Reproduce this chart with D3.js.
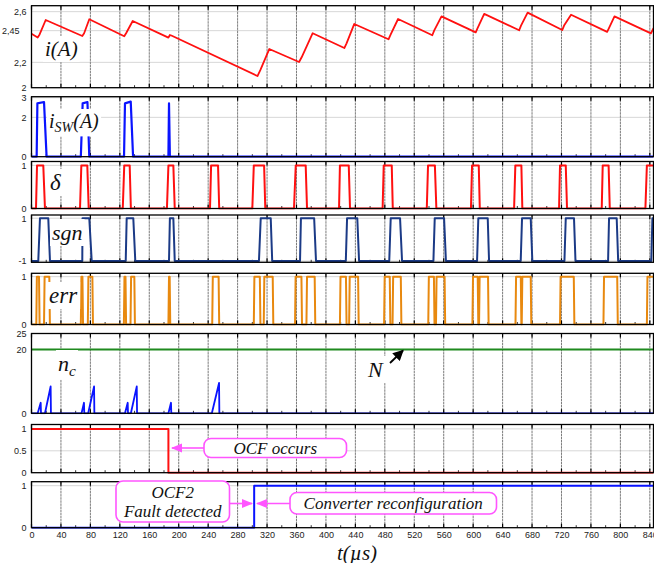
<!DOCTYPE html>
<html><head><meta charset="utf-8">
<script src="https://cdn.jsdelivr.net/npm/d3@7"></script>
<style>
body{margin:0;background:#fff}
.tick text{font-family:"Liberation Sans",Arial,sans-serif;font-size:9px;fill:#222}
.lbl{font-family:"Liberation Serif","Times New Roman",serif;font-style:italic;fill:#111}
</style>
</head><body><svg id="c" width="654" height="563"></svg>
<script>
// ---------------- data ----------------
const xTicks = d3.range(0, 841, 40);
// i(A): current waveform (t in µs, value in A)
const currentT = [0,8.4,11,19.3,69,71.5,78.5,126,128.5,137.5,186,188,190,307,311,323,363.5,367,382,425,428,438.5,485,488,498,544.5,547,557,603.5,606,615,662.5,665,674,721,723.5,733,782,784.5,792,841.5,845];
const currentV = [2.426,2.396,2.42,2.534,2.408,2.43,2.54,2.406,2.43,2.526,2.395,2.416,2.412,2.092,2.14,2.305,2.203,2.24,2.43,2.313,2.35,2.503,2.382,2.42,2.542,2.414,2.45,2.563,2.437,2.47,2.582,2.453,2.49,2.592,2.455,2.49,2.576,2.44,2.47,2.563,2.429,2.47];
const currentTicks = [2, 2.2, 2.45, 2.6];
const currentTickLabels = ["2", "2,2", "2,45", "2,6"];
// i_SW(A)
const iswT = [0,7,8,17,20.5,67,69.5,76,78.5,125.7,127,134.8,138,186,186.8,188,845];
const iswV = [0,0,2.71,2.78,0,0,2.71,2.78,0,0,2.71,2.8,0,0,2.71,0,0];
const iswTicks = [0, 2, 3];
// delta pulses: [rise start, top start, top end, fall end]
const deltaPulses = [[6.1,7.5,16,18.3],[65.9,67.7,75.8,77.7],[124,126,133.4,135],[184,186,192.7,194.6],[242.5,244,253.4,255],[300,302,316,317.6],[356.6,359,372.5,374.3],[417.8,419,431,432.7],[477,478.5,489.4,490.8],[537,538.7,548,550],[597,598.5,607.6,609],[655.6,657.3,665.5,666.8],[716.7,718,725.8,727.5],[774.7,776,784,785.6],[834,836,860,860]];
const deltaTicks = [0, 1];
// sgn pulses (-1 / 1)
const sgnPulses = [[9.2,11.5,22.8,25.1],[69,69.3,78.5,81.8],[128,129.3,138.3,141],[186.8,188,192.7,194.6],[309,311.4,325,327],[364.8,366,384,386.5],[427,428.7,442.6,445],[486,488,500.7,503.4],[546,547.8,560.5,563],[605.3,607,619.8,621.6],[664.6,666.4,678.2,680.4],[724,725.8,737,739],[783.3,784.6,795,797],[842,843.5,860,860]];
const sgnTicks = [-1, 1];
// err pulses [start, end]
const errPulses = [[6.5,11],[17,25],[67,70],[76.5,83.5],[125.5,128.5],[134.5,140.5],[186,188.5],[245.5,255],[302,311],[315.5,328.5],[358,367.5],[373.5,385.5],[419,428],[431.5,444.5],[479,487.5],[490.5,502.5],[539,547.5],[549.5,562],[599,607],[608,621],[657.5,665.5],[666,679],[718,737.5],[777,796.5],[836,860]];
const errTicks = [0, 1];
// n_c spikes [start, peak time, peak value]
const ncSpikes = [[8.4,12.5,3.3],[18.3,26,8.4],[68,71.3,3.3],[77,85,8.4],[127,130.7,3.3],[135,143,8.4],[186,189.5,3.3],[245,254.8,9.5]];
const ncThreshold = 20;
const ncTicks = [0, 20, 25];
// OCF occurrence flag and fault detection flag
const ocfT = [0,186,186,845];
const ocfV = [1,1,0,0];
const ocfTicks = [0, 0.5, 1];
const detT = [0,302.5,302.5,845];
const detV = [0,0,1,1];
const detTicks = [0, 1];

// ---------------- layout ----------------
const svg = d3.select("#c");
const L = 31.5, R = 653.5;
const x = d3.scaleLinear().domain([0, 845]).range([L, R]);

const panels = [
  {top:5.7, bot:87.7, dom:[2,2.647], ticks:currentTicks, fmt:d=>currentTickLabels[currentTicks.indexOf(d)]},
  {top:96.7, bot:156.7, dom:[0,3.05], ticks:iswTicks},
  {top:161.5, bot:208.5, dom:[0,1.09], ticks:deltaTicks},
  {top:215, bot:262.3, dom:[-1.06,1.15], ticks:sgnTicks},
  {top:273.3, bot:324.5, dom:[0,1.07], ticks:errTicks},
  {top:333.5, bot:413.3, dom:[0,25], ticks:ncTicks},
  {top:424.5, bot:472.7, dom:[0,1.1], ticks:ocfTicks},
  {top:481.7, bot:527.7, dom:[0,1.095], ticks:detTicks}
];

const defs = svg.append("defs");
defs.append("marker").attr("id","mh").attr("viewBox","0 0 10 10").attr("refX",9).attr("refY",5)
  .attr("markerWidth",7).attr("markerHeight",7).attr("orient","auto-start-reverse")
  .append("path").attr("d","M0,1 L10,5 L0,9 Z").attr("fill","#ff55ff");
defs.append("marker").attr("id","kh").attr("viewBox","0 0 10 10").attr("refX",9).attr("refY",5)
  .attr("markerWidth",6).attr("markerHeight",6).attr("orient","auto")
  .append("path").attr("d","M0,0 L10,5 L0,10 Z").attr("fill","#000");

panels.forEach((p,i)=>{
  p.y = d3.scaleLinear().domain(p.dom).range([p.bot, p.top]);
  p.g = svg.append("g");
  defs.append("clipPath").attr("id","cp"+i).append("rect")
    .attr("x",L).attr("y",p.top-1).attr("width",R-L).attr("height",p.bot-p.top+2);
  // grid
  p.g.append("g").selectAll("line").data(xTicks.filter(d=>d>0)).join("line")
    .attr("x1",d=>x(d)).attr("x2",d=>x(d)).attr("y1",p.top).attr("y2",p.bot)
    .attr("stroke","#5a5a5a").attr("stroke-width",0.8).attr("stroke-dasharray","2.5,0.6");
  p.g.append("g").selectAll("line").data(p.ticks.filter(d=>d!==p.dom[0])).join("line")
    .attr("x1",L).attr("x2",R).attr("y1",d=>p.y(d)).attr("y2",d=>p.y(d))
    .attr("stroke","#9a9a9a").attr("stroke-width",0.8).attr("stroke-dasharray","1,1");
  // tick marks (inward)
  const tk = p.g.append("g").attr("stroke","#000");
  tk.selectAll(".mb").data(xTicks).join("line").attr("x1",d=>x(d)).attr("x2",d=>x(d))
    .attr("y1",p.bot).attr("y2",p.bot-4).attr("stroke-width",1.2);
  tk.selectAll(".mt").data(xTicks).join("line").attr("x1",d=>x(d)).attr("x2",d=>x(d))
    .attr("y1",p.top).attr("y2",p.top+4).attr("stroke-width",1.2);
  tk.selectAll(".nb").data(d3.range(20,845,40)).join("line").attr("x1",d=>x(d)).attr("x2",d=>x(d))
    .attr("y1",p.bot).attr("y2",p.bot-2.5).attr("stroke-width",0.8);
  // y axis labels
  const ax = d3.axisLeft(p.y).tickValues(p.ticks).tickSize(0).tickPadding(5)
    .tickFormat(p.fmt || (d=>String(d)));
  const ag = p.g.append("g").attr("transform",`translate(${L},0)`).call(ax);
  ag.select(".domain").remove();
  ag.selectAll(".tick line").remove();
  if (i===0) ag.selectAll(".tick text").filter(d=>d===2.45).attr("x",-12);
  p.plot = svg.append("g").attr("clip-path",`url(#cp${i})`);
});

const line = (p)=>d3.line().x(d=>x(d[0])).y(d=>p.y(d[1]));
function draw(i, pts, color, w){
  panels[i].plot.append("path").datum(pts).attr("d", line(panels[i])).attr("fill","none")
    .attr("stroke",color).attr("stroke-width",w||2).attr("stroke-linejoin","round");
}
function pulses4(pl, lo, hi){
  const pts=[[0,lo]];
  pl.forEach(q=>{pts.push([q[0],lo],[q[1],hi],[q[2],hi],[q[3],lo]);});
  pts.push([860,lo]); return pts;
}

draw(0, currentT.map((t,k)=>[t,currentV[k]]), "#ff1010", 1.8);
draw(1, iswT.map((t,k)=>[t,iswV[k]]), "#0a14ff", 2.2);
draw(2, pulses4(deltaPulses,0,1), "#ff1010", 2);
draw(3, pulses4(sgnPulses,-1,1), "#1b3a86", 2);
draw(4, pulses4(errPulses.map(q=>[q[0],q[0]+0.8,q[1]-0.8,q[1]]),0,1), "#e8890f", 2);
draw(5, [[0,ncThreshold],[845,ncThreshold]], "#1f8a1f", 2);
{
  const pts=[[0,0]];
  ncSpikes.forEach(s=>{pts.push([s[0],0],[s[1],s[2]],[s[1]+0.4,0]);});
  pts.push([845,0]);
  draw(5, pts, "#0a14ff", 1.8);
}
draw(6, ocfT.map((t,k)=>[t,ocfV[k]]), "#ff1010", 2);
draw(7, detT.map((t,k)=>[t,detV[k]]), "#0a14ff", 2);

// frames
panels.forEach(p=>{
  svg.append("rect").attr("x",L).attr("y",p.top).attr("width",R-L).attr("height",p.bot-p.top)
    .attr("fill","none").attr("stroke","#000").attr("stroke-width",1.3);
});

// x axis (bottom panel)
const xa = svg.append("g").attr("transform",`translate(0,${panels[7].bot})`)
  .call(d3.axisBottom(x).tickValues(xTicks).tickSize(0).tickPadding(4));
xa.select(".domain").remove();
svg.append("text").attr("class","lbl").attr("x",357).attr("y",559.5).attr("text-anchor","middle")
  .attr("font-size",21).text("t(µs)");

// panel labels with white backgrounds
function label(xp, yp, size, parts){
  const g = svg.append("g");
  const t = g.append("text").attr("class","lbl").attr("x",xp).attr("y",yp).attr("font-size",size);
  parts.forEach(pt=>{
    const s = t.append("tspan").text(pt.t);
    if (pt.sub) s.attr("font-size",size*0.7).attr("dy",size*0.22);
    if (pt.up) s.attr("dy",-size*0.22);
  });
  const b = t.node().getBBox();
  g.insert("rect","text").attr("x",b.x-2).attr("y",b.y-1).attr("width",b.width+4).attr("height",b.height+2).attr("fill","#fff");
}
label(45, 56, 21, [{t:"i(A)"}]);
label(49, 128, 20, [{t:"i"},{t:"SW",sub:true},{t:"(A)",up:true}]);
label(50, 190, 23, [{t:"δ"}]);
label(52, 240, 22, [{t:"sgn"}]);
label(49, 303, 23, [{t:"err"}]);
label(58, 371, 22, [{t:"n"},{t:"c",sub:true}]);
label(368, 377, 22, [{t:"N"}]);
svg.append("line").attr("x1",390).attr("y1",363).attr("x2",403).attr("y2",350.5)
  .attr("stroke","#000").attr("stroke-width",1.8).attr("marker-end","url(#kh)");

// annotations
function box(x0,y0,x1,y1,lines,size){
  svg.append("rect").attr("x",x0).attr("y",y0).attr("width",x1-x0).attr("height",y1-y0)
    .attr("rx",7).attr("fill","#fff").attr("stroke","#ff55ff").attr("stroke-width",1.6);
  lines.forEach(l=>svg.append("text").attr("class","lbl").attr("x",(x0+x1)/2).attr("y",l[1])
    .attr("text-anchor","middle").attr("font-size",size).text(l[0]));
}
function arrow(x0,y0,x1,y1){
  svg.append("line").attr("x1",x0).attr("y1",y0).attr("x2",x1).attr("y2",y1)
    .attr("stroke","#ff55ff").attr("stroke-width",1.6).attr("marker-end","url(#mh)");
}
box(204,438.5,346.5,457.5,[["OCF occurs",453.5]],17);
arrow(204,448,172,448);
box(116,481,229.5,522,[["OCF2",497.5],["Fault detected",517]],17);
arrow(229.5,503.5,252,503.5);
box(290,492.5,496.5,514,[["Converter reconfiguration",509]],17);
arrow(290,503.5,257,503.5);
</script></body></html>
